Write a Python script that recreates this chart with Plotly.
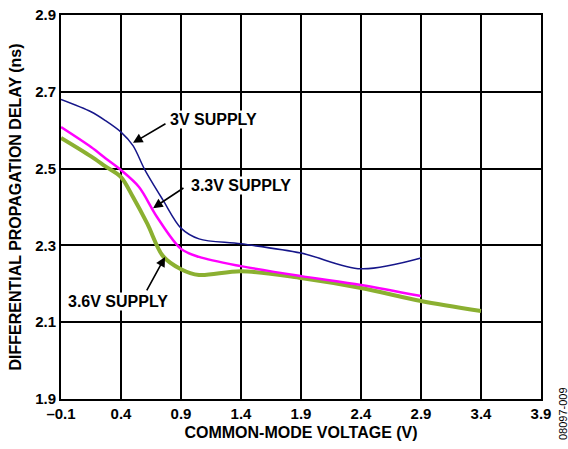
import plotly.graph_objects as go

x_3v = [-0.1, 0.15, 0.27, 0.4, 0.5, 0.6, 0.75, 0.9, 1.05, 1.4, 1.9, 2.4, 2.9]
y_3v = [2.68, 2.648, 2.625, 2.595, 2.56, 2.496, 2.418, 2.345, 2.317, 2.304, 2.28, 2.239, 2.267]

x_33v = [-0.1, 0.15, 0.27, 0.4, 0.55, 0.7, 0.9, 1.05, 1.4, 1.9, 2.4, 2.9]
y_33v = [2.608, 2.556, 2.527, 2.496, 2.452, 2.374, 2.291, 2.27, 2.246, 2.22, 2.197, 2.168]

x_36v = [-0.1, 0.15, 0.27, 0.4, 0.5, 0.62, 0.75, 0.9, 1.05, 1.4, 1.9, 2.4, 2.9, 3.4]
y_36v = [2.58, 2.532, 2.506, 2.478, 2.426, 2.356, 2.272, 2.238, 2.223, 2.233, 2.215, 2.189, 2.155, 2.129]

x_ticks = [-0.1, 0.4, 0.9, 1.4, 1.9, 2.4, 2.9, 3.4, 3.9]
x_ticktext = ["\u20130.1", "0.4", "0.9", "1.4", "1.9", "2.4", "2.9", "3.4", "3.9"]
y_ticks = [1.9, 2.1, 2.3, 2.5, 2.7, 2.9]
y_ticktext = ["1.9", "2.1", "2.3", "2.5", "2.7", "2.9"]

FONT = "Liberation Sans, Arial, sans-serif"
NARROW = "Liberation Sans Narrow, Arial Narrow, Liberation Sans, sans-serif"

fig = go.Figure()
fig.add_trace(go.Scatter(x=x_36v, y=y_36v, mode="lines", hoverinfo="skip",
                         line=dict(color="#8bb031", width=4, shape="spline", smoothing=0.9)))
fig.add_trace(go.Scatter(x=x_33v, y=y_33v, mode="lines", hoverinfo="skip",
                         line=dict(color="#ff00ff", width=2.5, shape="spline", smoothing=0.9)))
fig.add_trace(go.Scatter(x=x_3v, y=y_3v, mode="lines", hoverinfo="skip",
                         line=dict(color="#16168a", width=1.5, shape="spline", smoothing=0.9)))

labels = [
    ("3V SUPPLY", 1.167, 2.629, 0.783, 2.619, 0.5, 2.567),
    ("3.3V SUPPLY", 1.4, 2.455, 0.933, 2.452, 0.667, 2.397),
    ("3.6V SUPPLY", 0.371, 2.153, 0.608, 2.179, 0.767, 2.270),
]
for text, tx, ty, ax, ay, hx, hy in labels:
    fig.add_annotation(x=tx, y=ty, text="<b>%s</b>" % text, showarrow=False,
                       font=dict(family=FONT, size=16, color="black"),
                       bgcolor="white", borderpad=0)
    fig.add_annotation(x=hx, y=hy, ax=ax, ay=ay, axref="x", ayref="y", text="",
                       showarrow=True, arrowhead=2, arrowsize=1.2, arrowwidth=1.6,
                       arrowcolor="black")

fig.add_annotation(x=(563 - 61) / 480, y=(399 - 414) / 384, xref="paper", yref="paper",
                   text="08097-009", showarrow=False, textangle=-90,
                   xanchor="center", yanchor="middle",
                   font=dict(family=FONT, size=11, color="black"))

fig.update_layout(
    width=568, height=449,
    margin=dict(l=61, r=27, t=15, b=50),
    paper_bgcolor="white", plot_bgcolor="white",
    showlegend=False,
    font=dict(family=FONT, size=15, color="black"),
    xaxis=dict(range=[-0.1, 3.9], tickvals=x_ticks, ticktext=["<b>%s</b>" % t for t in x_ticktext],
               showgrid=True, gridcolor="black", gridwidth=1.5,
               showline=True, linecolor="black", linewidth=2, mirror=True,
               zeroline=False, ticks="", ticklen=0, automargin=False,
               tickfont=dict(family=FONT, size=15),
               title=dict(text="<b>COMMON-MODE VOLTAGE (V)</b>", standoff=6,
                          font=dict(family=FONT, size=16))),
    yaxis=dict(range=[1.9, 2.9], tickvals=y_ticks, ticktext=["<b>%s</b>" % t for t in y_ticktext],
               showgrid=True, gridcolor="black", gridwidth=1.5,
               showline=True, linecolor="black", linewidth=2, mirror=True,
               zeroline=False, ticks="", ticklen=0, automargin=False,
               tickfont=dict(family=FONT, size=15),
               title=dict(text="<b>DIFFERENTIAL PROPAGATION DELAY (ns)</b>", standoff=10,
                          font=dict(family=NARROW, size=16))),
)

fig.write_html("out.html", config={"displayModeBar": False},
               post_script="document.body.style.margin='0';")
